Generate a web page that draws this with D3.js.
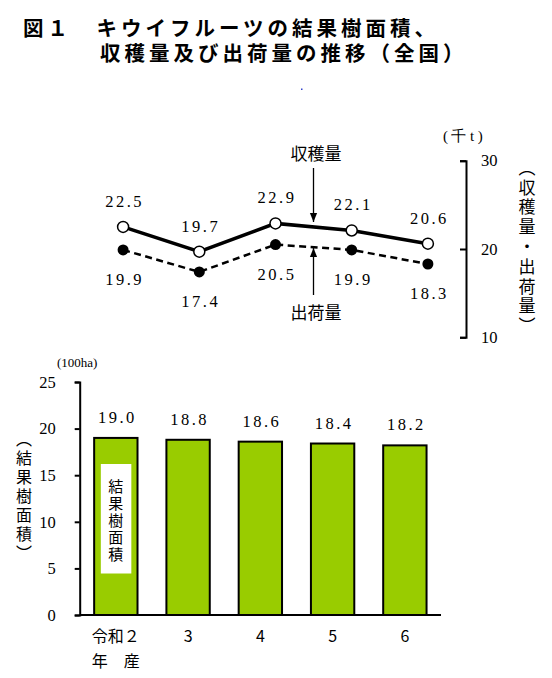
<!DOCTYPE html>
<html>
<head>
<meta charset="utf-8">
<script src="https://cdn.jsdelivr.net/npm/d3@7"></script>
<style>
  body { margin: 0; background: #fff; }
  svg { display: block; }
  .num { font-family: "Liberation Serif", "DejaVu Serif", serif; }
  .jp { font-family: "Noto Sans CJK JP", sans-serif; }
</style>
</head>
<body>
<div id="chart"></div>
<script>
const years = ["令和２", "3", "4", "5", "6"];
const harvest = [22.5, 19.7, 22.9, 22.1, 20.6];   // 収穫量 (千t)
const shipment = [19.9, 17.4, 20.5, 19.9, 18.3];  // 出荷量 (千t)
const area = [19.0, 18.8, 18.6, 18.4, 18.2];      // 結果樹面積 (100ha)
const topTicks = [10, 20, 30];
const barTicks = [0, 5, 10, 15, 20, 25];

const svg = d3.select("#chart").append("svg")
    .attr("width", 552)
    .attr("height", 678);

// title
const title = svg.append("g").attr("class", "jp")
    .style("font-size", "20.5px").style("font-weight", 700).style("letter-spacing", "4px");
title.append("text").attr("x", 23).attr("y", 36).text("図１　キウイフルーツの結果樹面積、");
title.append("text").attr("x", 100).attr("y", 61).text("収穫量及び出荷量の推移（全国）");
svg.append("rect").attr("x", 301).attr("y", 88.5).attr("width", 1.5).attr("height", 1.5).attr("fill", "#3344cc");

// ---- top: line chart ----
const xTop = d3.scalePoint().domain(years).range([85, 466]).padding(0.5);
const yTop = d3.scaleLinear().domain([10, 30]).range([337.3, 160.7]);

const axR = svg.append("g")
    .attr("transform", "translate(466,0)")
    .call(d3.axisRight(yTop).tickValues(topTicks).tickSizeInner(-6).tickSizeOuter(-6).tickPadding(15));
axR.selectAll("path, line").attr("stroke", "#000").attr("stroke-width", 2);
axR.selectAll("text").attr("class", "num").style("font-size", "16.5px").attr("fill", "#000");

svg.append("text").attr("class", "num").attr("x", 443).attr("y", 141)
    .style("font-size", "15px").style("letter-spacing", "3.5px").text("(千t)");

svg.append("text").attr("class", "jp")
    .attr("x", 527).attr("y", 248)
    .style("writing-mode", "vertical-rl").style("font-size", "17px").style("letter-spacing", "2.8px")
    .attr("text-anchor", "middle").text("（収穫量・出荷量）");

const lineTop = d3.line().x((d, i) => xTop(years[i])).y(d => yTop(d));

svg.append("path").datum(shipment)
    .attr("d", lineTop).attr("fill", "none").attr("stroke", "#000")
    .attr("stroke-width", 2.5).attr("stroke-dasharray", "7,4.5");
svg.append("path").datum(harvest)
    .attr("d", lineTop).attr("fill", "none").attr("stroke", "#000").attr("stroke-width", 3.5);

svg.selectAll(".pt-ship").data(shipment).enter().append("circle")
    .attr("class", "pt-ship")
    .attr("cx", (d, i) => xTop(years[i])).attr("cy", d => yTop(d))
    .attr("r", 5.5).attr("fill", "#000");
svg.selectAll(".pt-harv").data(harvest).enter().append("circle")
    .attr("class", "pt-harv")
    .attr("cx", (d, i) => xTop(years[i])).attr("cy", d => yTop(d))
    .attr("r", 5.5).attr("fill", "#fff").attr("stroke", "#000").attr("stroke-width", 1.5);

const fmt = d3.format(".1f");
svg.selectAll(".lb-harv").data(harvest).enter().append("text")
    .attr("class", "num lb-harv")
    .attr("x", (d, i) => xTop(years[i]) + 1.5).attr("y", d => yTop(d) - 20)
    .attr("text-anchor", "middle").style("font-size", "16.5px").style("letter-spacing", "2.5px")
    .text(d => fmt(d));
svg.selectAll(".lb-ship").data(shipment).enter().append("text")
    .attr("class", "num lb-ship")
    .attr("x", (d, i) => xTop(years[i]) + 1.5).attr("y", d => yTop(d) + 35)
    .attr("text-anchor", "middle").style("font-size", "16.5px").style("letter-spacing", "2.5px")
    .text(d => fmt(d));

// annotations
const defs = svg.append("defs");
defs.append("marker").attr("id", "ah")
    .attr("viewBox", "0 0 10 10").attr("refX", 10).attr("refY", 5)
    .attr("markerWidth", 7).attr("markerHeight", 7).attr("orient", "auto")
    .append("path").attr("d", "M0,1L10,5L0,9Z").attr("fill", "#000");

svg.append("line").attr("x1", 313.5).attr("y1", 168).attr("x2", 313.5).attr("y2", 222)
    .attr("stroke", "#000").attr("stroke-width", 1.3).attr("marker-end", "url(#ah)");
svg.append("line").attr("x1", 313.5).attr("y1", 295).attr("x2", 313.5).attr("y2", 248)
    .attr("stroke", "#000").attr("stroke-width", 1.3).attr("marker-end", "url(#ah)");
svg.append("text").attr("class", "jp").attr("x", 316).attr("y", 160)
    .attr("text-anchor", "middle").style("font-size", "17px").text("収穫量");
svg.append("text").attr("class", "jp").attr("x", 316).attr("y", 319)
    .attr("text-anchor", "middle").style("font-size", "17px").text("出荷量");

// ---- bottom: bar chart ----
const xBar = d3.scaleBand().domain(years).range([79.7, 441]).paddingInner(0.4).paddingOuter(0.2);
const yBar = d3.scaleLinear().domain([0, 25]).range([615, 382]);

svg.selectAll(".bar").data(area).enter().append("rect")
    .attr("class", "bar")
    .attr("x", (d, i) => xBar(years[i]))
    .attr("y", d => yBar(d))
    .attr("width", xBar.bandwidth())
    .attr("height", d => yBar(0) - yBar(d))
    .attr("fill", "#99cc00").attr("stroke", "#000").attr("stroke-width", 2);

svg.selectAll(".lb-bar").data(area).enter().append("text")
    .attr("class", "num lb-bar")
    .attr("x", (d, i) => xBar(years[i]) + xBar.bandwidth() / 2 + 1.5)
    .attr("y", d => yBar(d) - 15)
    .attr("text-anchor", "middle").style("font-size", "16.5px").style("letter-spacing", "2.5px")
    .text(d => fmt(d));

const axL = svg.append("g")
    .attr("transform", "translate(79.7,0)")
    .call(d3.axisLeft(yBar).tickValues(barTicks).tickSize(5).tickPadding(19));
axL.selectAll("path, line").attr("stroke", "#000").attr("stroke-width", 2);
axL.selectAll("text").attr("class", "num").style("font-size", "16.5px").attr("fill", "#000");

svg.append("line").attr("x1", 79.7).attr("x2", 441).attr("y1", yBar(0)).attr("y2", yBar(0))
    .attr("stroke", "#000").attr("stroke-width", 2);

svg.append("text").attr("class", "num").attr("x", 57).attr("y", 367)
    .style("font-size", "13px").text("(100ha)");

svg.append("text").attr("class", "jp")
    .attr("x", 24).attr("y", 497)
    .style("writing-mode", "vertical-rl").style("font-size", "16px").style("letter-spacing", "3px")
    .attr("text-anchor", "middle").text("（結果樹面積）");

// label box inside first bar
const cx0 = xBar(years[0]) + xBar.bandwidth() / 2;
svg.append("rect").attr("x", cx0 - 15).attr("y", 464).attr("width", 30.5).attr("height", 109.5).attr("fill", "#fff");
svg.append("text").attr("class", "jp")
    .attr("x", cx0).attr("y", 521)
    .style("writing-mode", "vertical-rl").style("font-size", "15px").style("letter-spacing", "2px")
    .attr("text-anchor", "middle").text("結果樹面積");

// x labels
svg.selectAll(".xl").data(years).enter().append("text")
    .attr("class", "jp xl")
    .attr("x", (d, i) => xBar(years[i]) + xBar.bandwidth() / 2)
    .attr("y", 642)
    .attr("text-anchor", "middle").style("font-size", "16px")
    .text(d => d);
svg.append("text").attr("class", "jp")
    .attr("x", cx0).attr("y", 667)
    .attr("text-anchor", "middle").style("font-size", "16px").text("年　産");
</script>
</body>
</html>
